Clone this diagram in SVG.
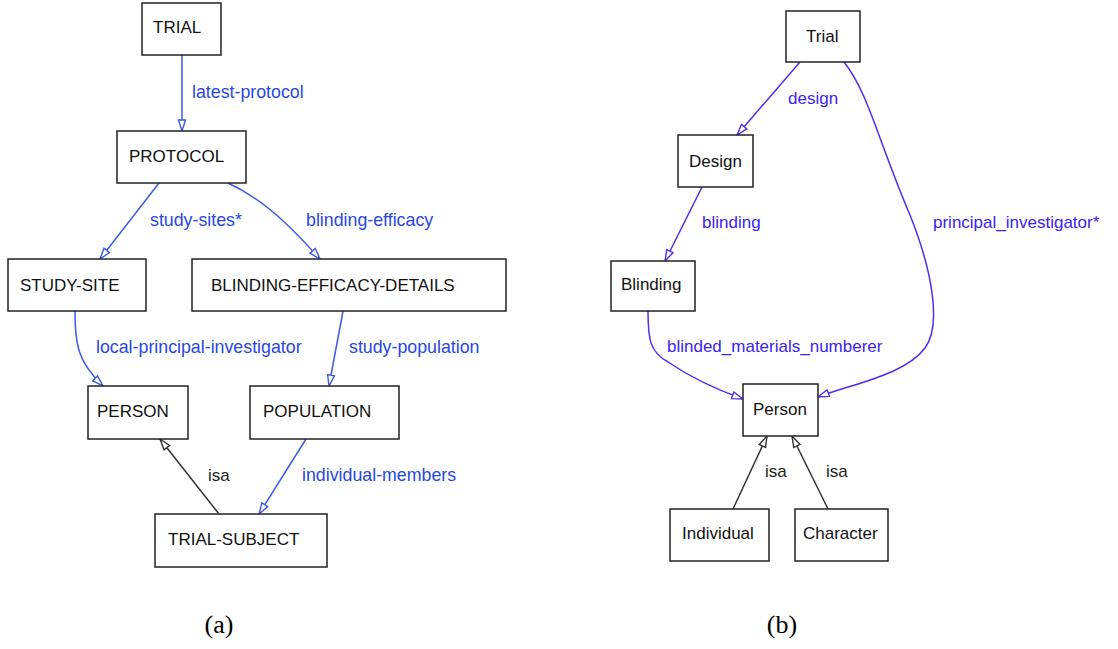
<svg xmlns="http://www.w3.org/2000/svg" width="1118" height="649" viewBox="0 0 1118 649">
<defs>
<style>
.box{fill:#fff;stroke:#222;stroke-width:1.5}
.nt{font-family:"Liberation Sans",Arial,sans-serif;font-size:17px;fill:#111}
.lb{font-family:"Liberation Sans",Arial,sans-serif;font-size:17px}
.la{fill:#2747e0;font-size:17.8px}
.rb{fill:#3a22f0}
.ik{fill:#222}
.ea{fill:none;stroke:#3a5ae6;stroke-width:1.5}
.eb{fill:none;stroke:#4a2ff0;stroke-width:1.5}
.eg{fill:none;stroke:#333;stroke-width:1.5}
.cap{font-family:"Liberation Serif","Times New Roman",serif;font-size:26px;fill:#000}
</style>
<marker id="ma" markerUnits="userSpaceOnUse" markerWidth="13" markerHeight="10" refX="12" refY="4.5" orient="auto"><path d="M1,1 L12,4.5 L1,8 z" fill="#fff" stroke="#3a5ae6" stroke-width="1.4"/></marker>
<marker id="mb" markerUnits="userSpaceOnUse" markerWidth="13" markerHeight="10" refX="12" refY="4.5" orient="auto"><path d="M1,1 L12,4.5 L1,8 z" fill="#fff" stroke="#4a2ff0" stroke-width="1.4"/></marker>
<marker id="mg" markerUnits="userSpaceOnUse" markerWidth="13" markerHeight="10" refX="12" refY="4.5" orient="auto"><path d="M1,1 L12,4.5 L1,8 z" fill="#fff" stroke="#333" stroke-width="1.4"/></marker>
</defs>
<rect width="1118" height="649" fill="#fff"/>
<g id="connectors">
<path class="ea" d="M182,55 L182,131" marker-end="url(#ma)"/>
<path class="ea" d="M159,183 L100,259" marker-end="url(#ma)"/>
<path class="ea" d="M228,183 C265,200 292,228 320,259" marker-end="url(#ma)"/>
<path class="ea" d="M75,311 C75,345 78,362 103,386" marker-end="url(#ma)"/>
<path class="ea" d="M343,311 L329,386" marker-end="url(#ma)"/>
<path class="eg" d="M219,514 L160,439" marker-end="url(#mg)"/>
<path class="ea" d="M306,439 L259,514" marker-end="url(#ma)"/>
<path class="eb" d="M800,62 L737,135" marker-end="url(#mb)"/>
<path class="eb" d="M702,187 L665,261" marker-end="url(#mb)"/>
<path class="eb" d="M844,62 C868,92 878,140 910,215 C932,270 942,325 925,348 C905,375 852,384 818,397" marker-end="url(#mb)"/>
<path class="eb" d="M648,311 C648,340 650,352 668,362 C690,377 715,389 743,399" marker-end="url(#mb)"/>
<path class="eg" d="M733,509 L767,436" marker-end="url(#mg)"/>
<path class="eg" d="M828,509 L792,436" marker-end="url(#mg)"/>
<text class="lb la" x="192" y="98">latest-protocol</text>
<text class="lb la" x="150" y="226">study-sites*</text>
<text class="lb la" x="306" y="226">blinding-efficacy</text>
<text class="lb la" x="96" y="353">local-principal-investigator</text>
<text class="lb la" x="349" y="353">study-population</text>
<text class="lb ik" x="208" y="481">isa</text>
<text class="lb la" x="302" y="481">individual-members</text>
<text class="lb rb" x="788" y="104">design</text>
<text class="lb rb" x="702" y="228">blinding</text>
<text class="lb rb" x="933" y="228">principal_investigator*</text>
<text class="lb rb" x="667" y="352">blinded_materials_numberer</text>
<text class="lb ik" x="765" y="477">isa</text>
<text class="lb ik" x="826" y="477">isa</text>
</g>
<g id="n-TRIAL"><rect class="box" x="142" y="3" width="79" height="52"/><text class="nt" x="153" y="33">TRIAL</text></g>
<g id="n-PROTOCOL"><rect class="box" x="117" y="131" width="129" height="52"/><text class="nt" x="129" y="162">PROTOCOL</text></g>
<g id="n-STUDY-SITE"><rect class="box" x="8" y="259" width="138" height="52"/><text class="nt" x="20" y="291">STUDY-SITE</text></g>
<g id="n-BED"><rect class="box" x="192" y="259" width="314" height="52"/><text class="nt" x="211" y="291">BLINDING-EFFICACY-DETAILS</text></g>
<g id="n-PERSON"><rect class="box" x="88" y="386" width="100" height="53"/><text class="nt" x="97" y="417">PERSON</text></g>
<g id="n-POPULATION"><rect class="box" x="250" y="386" width="149" height="53"/><text class="nt" x="263" y="417">POPULATION</text></g>
<g id="n-TRIAL-SUBJECT"><rect class="box" x="155" y="514" width="172" height="53"/><text class="nt" x="168" y="545">TRIAL-SUBJECT</text></g>
<g id="n-Trial"><rect class="box" x="786" y="11" width="74" height="51"/><text class="nt" x="806" y="42">Trial</text></g>
<g id="n-Design"><rect class="box" x="678" y="135" width="75" height="52"/><text class="nt" x="689" y="167">Design</text></g>
<g id="n-Blinding"><rect class="box" x="611" y="261" width="84" height="50"/><text class="nt" x="621" y="290">Blinding</text></g>
<g id="n-Person"><rect class="box" x="743" y="384" width="75" height="52"/><text class="nt" x="753" y="415">Person</text></g>
<g id="n-Individual"><rect class="box" x="670" y="509" width="99" height="52"/><text class="nt" x="682" y="539">Individual</text></g>
<g id="n-Character"><rect class="box" x="795" y="509" width="93" height="52"/><text class="nt" x="803" y="539">Character</text></g>
<text class="cap" x="219" y="633" text-anchor="middle">(a)</text>
<text class="cap" x="782" y="633" text-anchor="middle">(b)</text>
</svg>
